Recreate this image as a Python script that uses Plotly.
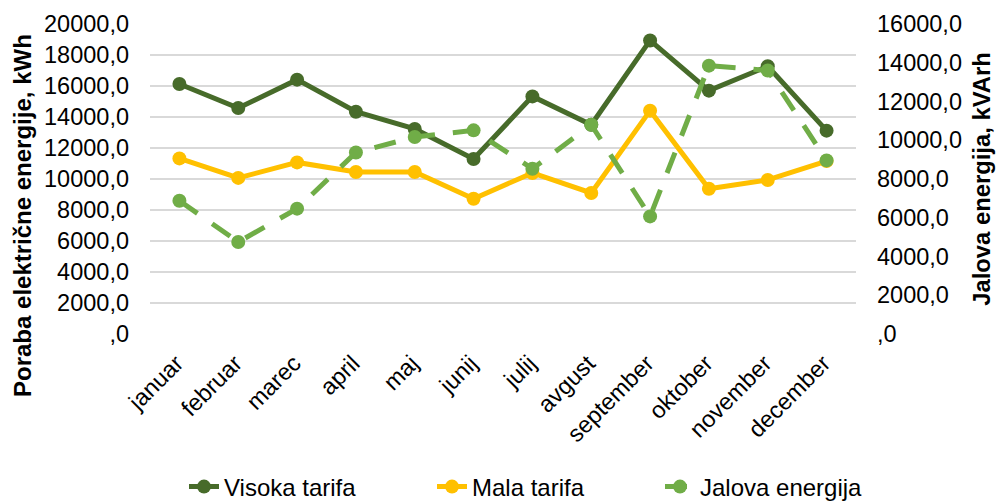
import plotly.graph_objects as go

months = ["januar", "februar", "marec", "april", "maj", "junij", "julij",
          "avgust", "september", "oktober", "november", "december"]
visoka = [16130, 14580, 16410, 14340, 13230, 11290, 15330, 13500, 18940, 15700, 17270, 13120]
mala = [11330, 10070, 11070, 10450, 10450, 8730, 10390, 9100, 14410, 9370, 9940, 11160]
jalova = [6880, 4750, 6470, 9370, 10170, 10510, 8530, 10800, 6070, 13850, 13600, 8960]

left_vals = list(range(0, 20001, 2000))
left_text = [",0"] + [f"{v},0" for v in left_vals[1:]]
right_vals = list(range(0, 16001, 2000))
right_text = [",0"] + [f"{v},0" for v in right_vals[1:]]

FONT = "Liberation Sans, Arial, sans-serif"
C_DARK = "#476B2A"
C_YEL = "#FFC000"
C_LIGHT = "#70AD47"
TICK = 23.5

fig = go.Figure()
fig.add_trace(go.Scatter(x=months, y=visoka, name="Visoka tarifa", mode="lines+markers",
                         legendwidth=203,
                         line=dict(color=C_DARK, width=5), marker=dict(size=14, color=C_DARK)))
fig.add_trace(go.Scatter(x=months, y=mala, name="Mala tarifa", mode="lines+markers",
                         legendwidth=183,
                         line=dict(color=C_YEL, width=5), marker=dict(size=14, color=C_YEL)))
fig.add_trace(go.Scatter(x=months, y=jalova, name="Jalova energija", mode="lines+markers",
                         yaxis="y2",
                         line=dict(color=C_LIGHT, width=5, dash="22px,18px"),
                         marker=dict(size=14, color=C_LIGHT)))

fig.update_layout(
    width=1003, height=501,
    margin=dict(l=150, r=147, t=24, b=167, autoexpand=False),
    paper_bgcolor="white", plot_bgcolor="white",
    font=dict(family=FONT, size=TICK, color="#000000"),
    showlegend=True,
    legend=dict(orientation="h", x=(184 - 150) / 706, xanchor="left",
                y=-(487 - 334) / 310, yanchor="middle",
                font=dict(size=24), bgcolor="rgba(0,0,0,0)"),
    xaxis=dict(type="category", range=[-0.5, 11.5], tickangle=-45,
               showgrid=False, showline=False, zeroline=False, ticks="",
               tickfont=dict(size=TICK), ticklabelstandoff=10, ticklabelshift=-3,
               automargin=False),
    yaxis=dict(range=[0, 20000], tickvals=left_vals, ticktext=left_text,
               showgrid=True, gridcolor="#D9D9D9", gridwidth=1.5,
               zeroline=False, showline=False, ticks="",
               tickfont=dict(size=TICK), ticklabelstandoff=20, automargin=False),
    yaxis2=dict(range=[0, 16000], tickvals=right_vals, ticktext=right_text,
                overlaying="y", side="right", showgrid=False, zeroline=False,
                showline=False, ticks="", tickfont=dict(size=TICK),
                ticklabelstandoff=20, automargin=False,
                title=dict(text="<b>Jalova energija, kVArh</b>", font=dict(size=23.8), standoff=12)),
    annotations=[dict(text="<b>Poraba električne energije, kWh</b>", textangle=-90,
                      xref="paper", yref="paper", x=(22 - 150) / 706, y=(334 - 216) / 310,
                      xanchor="center", yanchor="middle", showarrow=False,
                      font=dict(size=24, family=FONT))],
)

fig.write_html("out.html", config={"displayModeBar": False},
               post_script="document.body.style.margin='0';")
